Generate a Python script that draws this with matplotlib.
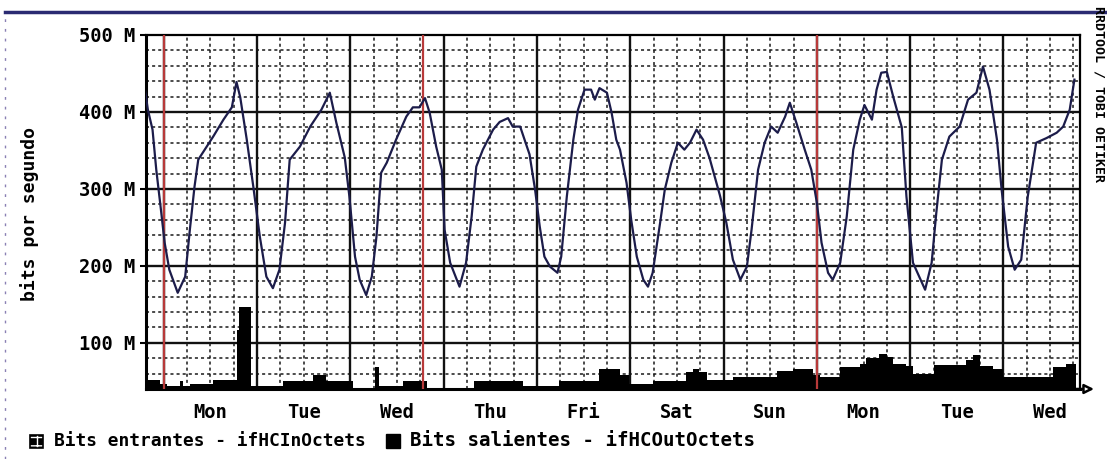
import matplotlib.pyplot as plt
from matplotlib.patches import Rectangle
from matplotlib.lines import Line2D

# time in days from the first visible Monday 00:00, traffic in Mbit/s
t_in = [-0.20, -0.17, -0.12, -0.08, -0.03, 0.01, 0.06, 0.15, 0.23, 0.28, 0.33, 0.37,
        0.46, 0.53, 0.64, 0.73, 0.78, 0.82, 0.89, 0.96, 1.03, 1.10, 1.17, 1.24,
        1.30, 1.35, 1.46, 1.57, 1.69, 1.78, 1.85, 1.94, 1.99, 2.05, 2.10, 2.17,
        2.23, 2.28, 2.33, 2.39, 2.49, 2.60, 2.67, 2.74, 2.80, 2.85, 2.92, 2.98,
        3.01, 3.07, 3.17, 3.24, 3.30, 3.35, 3.42, 3.53, 3.60, 3.69, 3.74, 3.82,
        3.92, 3.98, 4.03, 4.08, 4.14, 4.22, 4.26, 4.32, 4.39, 4.44, 4.51, 4.58,
        4.62, 4.67, 4.75, 4.80, 4.85, 4.89, 4.96, 5.01, 5.07, 5.14, 5.19, 5.24,
        5.32, 5.37, 5.44, 5.51, 5.58, 5.64, 5.71, 5.78, 5.85, 5.96, 6.03, 6.10,
        6.18, 6.25, 6.30, 6.37, 6.44, 6.51, 6.58, 6.66, 6.71, 6.78, 6.87, 6.94,
        7.00, 7.05, 7.12, 7.17, 7.25, 7.32, 7.39, 7.46, 7.51, 7.59, 7.64, 7.69,
        7.75, 7.82, 7.91, 7.96, 8.03, 8.16, 8.23, 8.28, 8.34, 8.42, 8.53, 8.62,
        8.71, 8.78, 8.85, 8.93, 8.98, 9.05, 9.12, 9.19, 9.26, 9.35, 9.46, 9.57,
        9.64, 9.71, 9.76]
bits_in = [428, 403, 377, 325, 273, 230, 195, 165, 186, 247, 303, 338,
           355, 368, 390, 406, 439, 419, 364, 303, 238, 186, 171, 195,
           256, 338, 355, 381, 403, 425, 386, 341, 290, 212, 182, 162,
           186, 238, 321, 334, 364, 394, 406, 406, 418, 399, 355, 325,
           247, 204, 173, 204, 264, 329, 351, 377, 387, 392, 381, 381,
           345, 299, 251, 212, 199, 191, 212, 290, 364, 403, 429, 429,
           416, 431, 425, 399, 364, 351, 308, 260, 212, 182, 173, 191,
           256, 299, 334, 360, 351, 360, 377, 364, 340, 292, 256, 208,
           182, 199, 247, 325, 360, 381, 373, 394, 412, 386, 351, 325,
           282, 230, 191, 182, 204, 264, 351, 390, 409, 390, 429, 451,
           452, 419, 380, 290, 204, 169, 204, 269, 338, 368, 381, 416,
           425, 459, 429, 364, 299, 225, 195, 208, 290, 360, 366, 373,
           381, 403, 442]

t_out = [-0.20, -0.04, 0.03, 0.17, 0.21, 0.28, 0.53, 0.78, 0.81, 0.94, 1.28, 1.60,
         1.74, 2.03, 2.26, 2.31, 2.56, 2.82, 3.17, 3.32, 3.67, 3.85, 4.03, 4.24,
         4.57, 4.67, 4.89, 4.99, 5.24, 5.50, 5.60, 5.67, 5.74, 5.82, 6.10, 6.50,
         6.57, 6.74, 6.96, 7.03, 7.25, 7.46, 7.53, 7.67, 7.75, 7.82, 7.96, 8.03,
         8.25, 8.46, 8.60, 8.67, 8.75, 8.89, 8.99, 9.35, 9.53, 9.67, 9.78]
bits_out = [52, 46, 44, 50, 44, 46, 52, 117, 147, 44, 50, 58,
            50, 41, 69, 44, 50, 41, 41, 50, 50, 44, 44, 50,
            50, 66, 58, 46, 50, 50, 62, 66, 62, 52, 56, 56,
            64, 66, 58, 56, 68, 72, 80, 86, 82, 72, 70, 60,
            71, 71, 78, 84, 70, 66, 56, 56, 68, 72, 68]

day_labels = ['Mon', 'Tue', 'Wed', 'Thu', 'Fri', 'Sat', 'Sun', 'Mon', 'Tue', 'Wed']
vrules = [0.0, 2.78, 7.0]
y_ticks = [100, 200, 300, 400, 500]

x_min, x_max = -0.19, 9.82
y_min, y_max = 40, 500

plt.rcParams['font.family'] = ['DejaVu Sans Mono']
plt.rcParams['font.weight'] = 'bold'

W, H = 1107, 459
fig = plt.figure(figsize=(W / 100, H / 100), dpi=100)
ax = fig.add_axes([146 / W, 1 - 389 / H, 934 / W, 354 / H])
ax.set_xlim(x_min, x_max)
ax.set_ylim(y_min, y_max)

# grid: minor every 20 M / 6 h, major every 100 M / day
minor_style = dict(color='#1a1a1a', lw=1.1, ls=(0, (2, 2)), zorder=1)
major_style = dict(color='#111111', lw=1.7, zorder=1)
v = y_min + 20
while v < y_max:
    ax.axhline(v, **(major_style if v % 100 == 0 else minor_style))
    v += 20
q = 0.0
while q < x_max:
    if q > x_min:
        ax.axvline(q, **(major_style if q % 1 == 0 else minor_style))
    q += 0.25

# outbound traffic (filled) and inbound traffic (line)
ax.fill_between(t_out, y_min, bits_out, step='post', color='black', lw=0, zorder=2)
for r in vrules:
    ax.axvline(r, color='#b83a3a', lw=1.6, zorder=3)
ax.plot(t_in, bits_in, color='#1c1c4a', lw=1.6, zorder=4)

ax.set_yticks(y_ticks)
ax.set_yticklabels([f'{v} M' for v in y_ticks])
ax.set_xticks([i + 0.5 for i in range(len(day_labels))])
ax.set_xticklabels(day_labels)
ax.tick_params(axis='y', length=4, width=1.5, pad=4, labelsize=13.5)
ax.tick_params(axis='x', length=0, pad=10, labelsize=13.5)
for s in ['left', 'bottom']:
    ax.spines[s].set_linewidth(2.2)
for s in ['top', 'right']:
    ax.spines[s].set_linewidth(1.6)

ax.annotate('', xy=(1.018, 0), xytext=(0.99, 0), xycoords='axes fraction',
            annotation_clip=False,
            arrowprops=dict(arrowstyle='-|>', fc='white', ec='black', lw=1.8,
                            mutation_scale=14))

fig.text(30 / W, 1 - 214 / H, 'bits por segundo', rotation=90,
         ha='center', va='center', fontsize=13)
fig.text(1099 / W, 1 - 6 / H, 'RRDTOOL / TOBI OETIKER', rotation=270,
         ha='center', va='top', fontsize=9.5)

# page decorations from the scan
fig.add_artist(Line2D([5 / W, 1], [1 - 12 / H] * 2, color='#2b2b72', lw=2.5))
fig.add_artist(Line2D([5 / W] * 2, [0, 1 - 14 / H], color='#8a80b4', lw=1,
                      ls=(0, (2, 5))))

# legend
fig.add_artist(Rectangle((30 / W, 1 - 448 / H), 13 / W, 13 / H, fc='black',
                         ec='white', hatch='++', lw=0, transform=fig.transFigure))
fig.add_artist(Rectangle((30 / W, 1 - 448 / H), 13 / W, 13 / H, fill=False,
                         ec='black', lw=1.2, transform=fig.transFigure))
fig.text(54 / W, 1 - 441 / H, 'Bits entrantes - ifHCInOctets',
         ha='left', va='center', fontsize=12.9)
fig.add_artist(Rectangle((386 / W, 1 - 448 / H), 14 / W, 14 / H, fc='black',
                         ec='black', transform=fig.transFigure))
fig.text(410 / W, 1 - 441 / H, 'Bits salientes - ifHCOutOctets',
         ha='left', va='center', fontsize=13.8)

fig.savefig('out.png', dpi=100, facecolor='white')
